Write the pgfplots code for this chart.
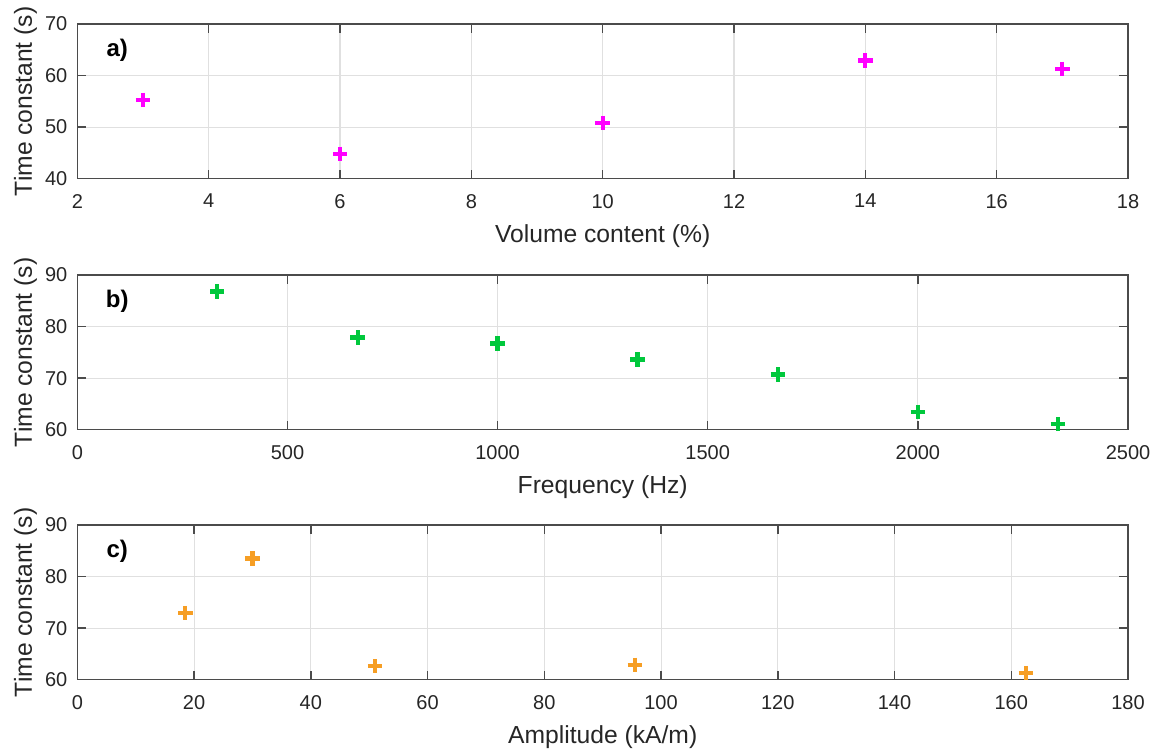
\documentclass[border=0pt]{standalone}
\usepackage{pgfplots}
\pgfplotsset{compat=1.18}
\usepackage{fontspec}
\setmainfont{Liberation Sans}
\definecolor{axgray}{RGB}{75,75,75}
\definecolor{gridgray}{RGB}{224,224,224}
\definecolor{cmag}{RGB}{255,0,255}
\definecolor{cgreen}{RGB}{0,200,60}
\definecolor{corange}{RGB}{246,158,36}
\pgfplotsset{
  mystyle/.style={
    scale only axis,
    width=788pt, height=116pt,
    axis line style={axgray, line width=1.1pt},
    tick style={axgray, line width=1.1pt},
    major tick length=6.75pt,
    tick align=inside,
    xtick pos=both, ytick pos=both,
    grid=major,
    major grid style={gridgray, line width=0.8pt},
    /pgf/number format/assume math mode=true,
    /pgf/number format/1000 sep={},
    ticklabel style={font=\fontsize{15}{17}\selectfont, text=black!85},
    yticklabel style={xshift=-4pt},
    xticklabel style={yshift=-8pt},
    label style={font=\fontsize{18.5}{21}\selectfont, text=black!85},
    xlabel style={at={(axis description cs:0.5,-0.4138)}, anchor=base},
    ylabel style={at={(axis description cs:-0.0432,0.5)}, anchor=base, rotate=0},
    ylabel={Time constant (s)},
    clip=false,
  },
  mymark/.style={only marks, mark=+, mark size=5.4pt, line width=3.2pt, color=#1},
}
\begin{document}
\begin{tikzpicture}
\path[use as bounding box] (0,0) rectangle (866.25pt,-564.75pt);
\begin{axis}[mystyle, at={(58pt,-18pt)}, anchor=north west,
  xmin=2, xmax=18, ymin=40, ymax=70,
  xtick={2,4,...,18}, ytick={40,50,60,70},
  xlabel={Volume content (\%)}]
\addplot[mymark=cmag] coordinates {
(3,55.3) (6,44.8) (10,50.8) (14,62.9) (17,61.3)};
\node[font=\bfseries\fontsize{18}{20}\selectfont] at (axis description cs:0.038,0.83) {a)};
\end{axis}
\begin{axis}[mystyle, at={(58pt,-206.25pt)}, anchor=north west,
  xmin=0, xmax=2500, ymin=60, ymax=90,
  xtick={0,500,...,2500}, ytick={60,70,80,90},
  xlabel={Frequency (Hz)}]
\addplot[mymark=cgreen] coordinates {
(333,86.8) (667,77.9) (1000,76.7) (1333,73.6) (1667,70.7) (2000,63.4) (2333,61.1)};
\node[font=\bfseries\fontsize{18}{20}\selectfont] at (axis description cs:0.038,0.83) {b)};
\end{axis}
\begin{axis}[mystyle, at={(58pt,-393.75pt)}, anchor=north west,
  xmin=0, xmax=180, ymin=60, ymax=90,
  xtick={0,20,...,180}, ytick={60,70,80,90},
  xlabel={Amplitude (kA/m)}]
\addplot[mymark=corange] coordinates {
(18.5,72.9) (30,83.5) (51,62.6) (95.5,62.9) (162.5,61.3)};
\node[font=\bfseries\fontsize{18}{20}\selectfont] at (axis description cs:0.038,0.83) {c)};
\end{axis}
\end{tikzpicture}
\end{document}
